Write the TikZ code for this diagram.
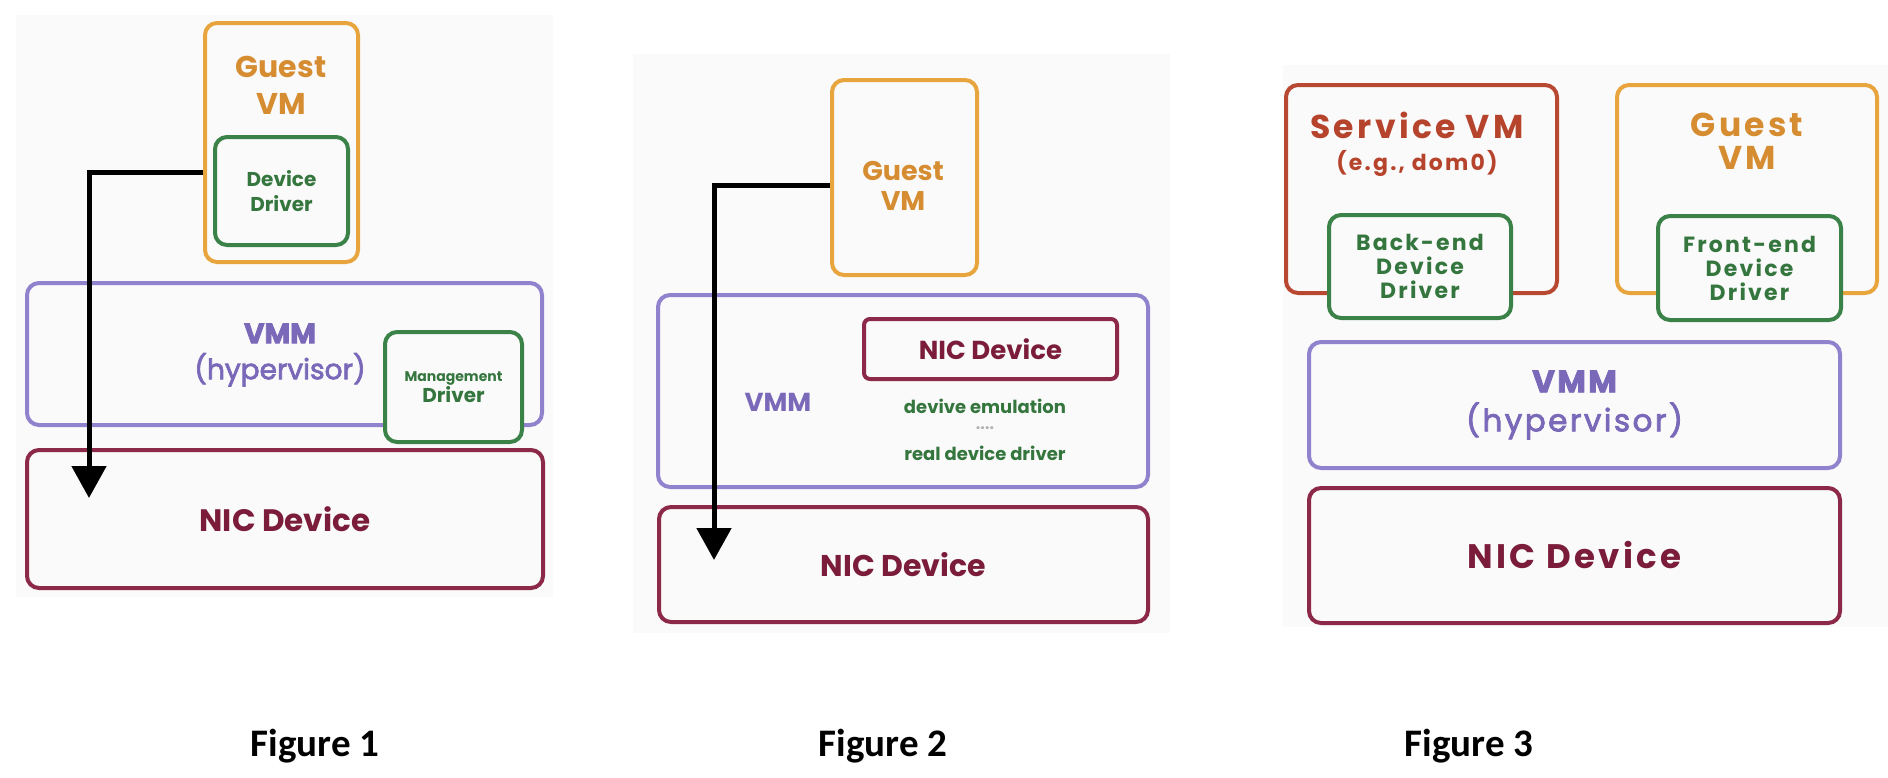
\documentclass[tikz,border=0pt]{standalone}
\usepackage{fontspec}
\setmainfont{Poppins}
\newfontfamily\widefont{Poppins}[LetterSpace=10]
\newfontfamily\widemed{Poppins}[LetterSpace=8,FakeBold=2.5]
\newfontfamily\medfont{Poppins}[FakeBold=2.5]
\newfontfamily\capfont{Carlito}
\usepackage{tikz}
\usetikzlibrary{arrows.meta,positioning}
\definecolor{orangeln}{RGB}{232,165,62}
\definecolor{orangetx}{RGB}{214,140,48}
\definecolor{greenln}{RGB}{58,130,72}
\definecolor{greentx}{RGB}{52,118,62}
\definecolor{purpleln}{RGB}{145,130,205}
\definecolor{purpletx}{RGB}{122,104,185}
\definecolor{nicln}{RGB}{140,40,72}
\definecolor{nictx}{RGB}{122,28,58}
\definecolor{svmln}{RGB}{185,72,50}
\definecolor{svmtx}{RGB}{182,68,44}
\definecolor{panel}{RGB}{250,250,250}
\newcommand{\fsz}[2]{\fontsize{#1}{#2}\selectfont}
\tikzset{
  box/.style = {draw, rounded corners=12pt, line width=4pt, fill=panel,
    inner sep=0pt, align=center},
  vm_o/.style = {box, draw=orangeln, text=orangetx},% guest vm
  vm_s/.style = {box, draw=svmln, text=svmtx},% service vm
  drv/.style = {box, draw=greenln, text=greentx},% driver
  vmm/.style = {box, draw=purpleln, text=purpletx},% hypervisor
  nic/.style = {box, draw=nicln, text=nictx},% nic device
  txt/.style = {inner sep=0pt, align=center},
  flow/.style = {line width=5pt, -{Triangle[length=32pt,width=34pt]}},
  caption/.style = {inner sep=0pt, font=\capfont\fsz{39}{44}\bfseries}
}
\begin{document}
\begin{tikzpicture}[x=1pt,y=-1pt]
\useasboundingbox (0,0) rectangle (1888,777);
% panels
\fill[panel] (16,15) rectangle (553,597);
\fill[panel] (633,54) rectangle (1170,633);
\fill[panel] (1283,65) rectangle (1888,627);

% Figure 1
\node [vm_o, minimum width=153pt, minimum height=239pt] (g1) at (281.5,142.5) {};
\node [txt, text=orangetx, font=\fsz{30}{37}\bfseries] (g1t) at (281,85) {Guest\\VM};
\node [drv, minimum width=133pt, minimum height=108pt,
  font=\fsz{20}{25}\bfseries] (dd1) at (281.5,191) {Device\\Driver};
\node [vmm, minimum width=515pt, minimum height=142pt] (vmm1) at (284.5,354) {};
\node [txt, text=purpletx, font=\medfont\fsz{28}{36}] (vmm1t) at (280,355)
  {{\bfseries VMM}\\(hypervisor)};
\node [drv, minimum width=137pt, minimum height=110pt] (mg1) at (453.5,387)
  {{\fsz{14}{22}\bfseries Management}\\{\fsz{20}{24}\bfseries Driver}};
\node [nic, minimum width=516pt, minimum height=138pt,
  font=\fsz{31}{36}\bfseries] (nic1) at (285,519) {NIC Device};
\coordinate (t1) at (89,498);
\draw [flow] ([yshift=-29.5pt]g1.west) -| (t1);

% Figure 2
\node [vm_o, minimum width=145pt, minimum height=195pt] (g2) at (904.5,177.5) {};
\node [txt, text=orangetx, font=\fsz{27}{30}\bfseries] (g2t) at (903,186) {Guest\\VM};
\node [vmm, minimum width=490pt, minimum height=192pt] (vmm2) at (903,391) {};
\node [txt, text=purpletx, font=\fsz{26}{30}\bfseries] (vmm2t) at (778,402) {VMM};
\node [nic, rounded corners=6pt, minimum width=253pt, minimum height=60pt,
  font=\fsz{26}{30}\bfseries] (inic2) at (990.5,349) {NIC Device};
\node [txt, text=greentx, font=\fsz{18}{22}\bfseries] (emu2) at (985,406) {devive emulation};
\node [txt, text=black!30, font=\fsz{16}{16}\bfseries] (dots2) at (985,428) {....};
\node [txt, text=greentx, font=\fsz{18}{22}\bfseries] (real2) at (985,453) {real device driver};
\node [nic, minimum width=489pt, minimum height=115pt,
  font=\fsz{30}{36}\bfseries] (nic2) at (903.5,564.5) {NIC Device};
\coordinate (t2) at (714,560);
\draw [flow] ([yshift=-7.5pt]g2.west) -| (t2);

% Figure 3
\node [vm_s, minimum width=271pt, minimum height=208pt] (svm3) at (1421.5,189) {};
\node [txt, text=svmtx, font=\widefont\fsz{33}{36}\bfseries] (svm3t) at (1417,125) {Service VM};
\node [txt, text=svmtx, font=\widefont\fsz{22}{26}\bfseries] (svm3s) at (1417,163) {(e.g., dom0)};
\node [drv, minimum width=182pt, minimum height=103pt,
  font=\widefont\fsz{22}{24}\bfseries] (be3) at (1420,266.5) {Back-end\\Device\\Driver};
\node [vm_o, minimum width=260pt, minimum height=208pt] (g3) at (1747,189) {};
\node [txt, text=orangetx, font=\widefont\fsz{33}{33}\bfseries] (g3t) at (1747,141) {Guest\\VM};
\node [drv, minimum width=183pt, minimum height=104pt,
  font=\widefont\fsz{22}{24}\bfseries] (fe3) at (1749.5,268) {Front-end\\Device\\Driver};
\node [vmm, minimum width=531pt, minimum height=126pt,
  font=\widemed\fsz{31}{39}] (vmm3) at (1574.5,405) {{\bfseries VMM}\\(hypervisor)};
\node [nic, minimum width=531pt, minimum height=135pt,
  font=\widefont\fsz{34}{38}\bfseries] (nic3) at (1574.5,555.5) {NIC Device};

% captions
\node [caption] (c1) at (315,746) {Figure 1};
\node [caption] (c2) at (883,746) {Figure 2};
\node [caption] (c3) at (1469,746) {Figure 3};
\end{tikzpicture}
\end{document}
